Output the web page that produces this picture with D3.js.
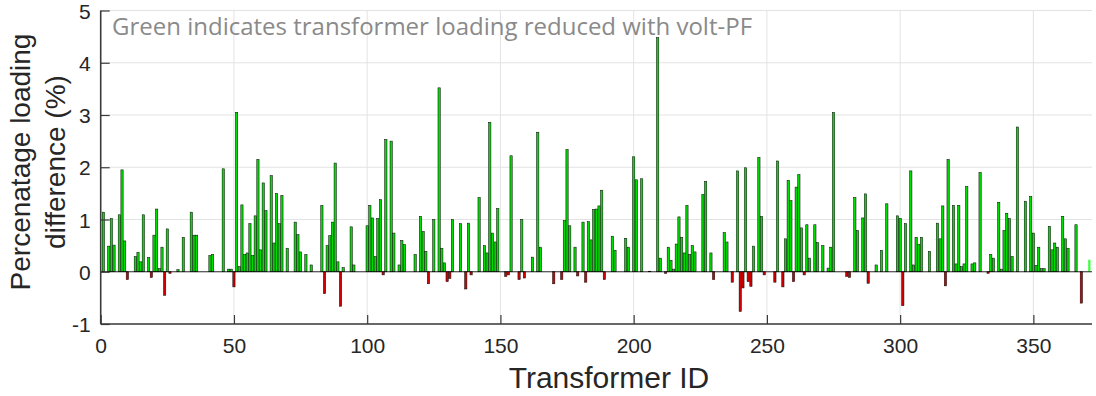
<!DOCTYPE html>
<html><head><meta charset="utf-8">
<script src="https://cdn.jsdelivr.net/npm/d3@7/dist/d3.min.js"></script>
<style>body{margin:0;background:#fff}svg{display:block}</style>
</head><body>
<svg id="c" width="1096" height="396"></svg>
<script>
// Percentage loading difference for transformer IDs 1..371
const loadingDiff = [
 1.14,0,0.49,1.02,0.51,0,1.09,1.95,0.59,-0.15,
 0,0,0.29,0.37,0.19,1.09,0,0.27,-0.11,0.7,
 1.2,0.06,0.47,-0.45,0.82,-0.03,0,0,0.04,0,
 0.66,0,0,1.14,0.7,0.7,0,0,0,0,
 0.31,0.33,0,0,0,1.97,0,0.05,0.05,-0.29,
 3.05,0.1,1.28,0.33,0.36,0.92,0.31,1.07,2.15,0.42,
 1.7,1.17,0,1.84,0.55,1.5,0.92,1.46,0,0.45,
 0,0,0.95,0.71,0.38,0,0.33,0,0.13,0,
 0,0,1.27,-0.42,0.5,0.69,0.95,2.08,0.19,-0.66,
 0.08,0,0,0.86,0.13,0,0,0,0,0.88,
 1.27,1.03,0.29,1.02,1.38,-0.06,2.53,0,2.5,0.74,
 0,0.13,0.6,0.52,0,0,0,0.33,0,1.06,
 0.77,0.39,-0.23,0,1.0,0,3.52,0.45,0.17,-0.19,
 -0.13,1.0,0,0,0.92,0,-0.33,0.93,-0.06,0,
 0,1.42,0,0.5,0.36,2.86,0.74,0.57,1.21,0,
 0,-0.09,-0.06,2.22,0,0,-0.15,1.0,-0.12,0,
 0,0.28,0,2.67,0.47,0,0,0,0,-0.23,
 0,0,-0.15,0.98,2.34,0.88,0,0.47,-0.08,0,
 0.95,-0.2,0.96,0.61,1.19,1.2,1.26,1.56,-0.15,0,
 0,0.68,0.41,0,0,0,0.64,0.47,0,2.2,
 1.76,0,1.78,0,0,0.01,0,0,4.48,0.26,
 0,-0.03,0.47,0.22,0.05,0.53,1.05,0.66,0.36,1.27,
 0.33,0.5,0.38,0,0,1.48,1.73,0,0.36,-0.15,
 0,0,0,0.75,0.57,0,-0.2,0,1.93,-0.76,
 -0.31,1.99,-0.19,-0.28,0.49,0,2.19,1.06,-0.06,0,
 0,0,-0.2,2.12,0,-0.29,0.63,1.75,1.36,-0.19,
 1.62,1.86,0.84,-0.06,0.9,0.26,0,0.9,0.56,0,
 0.5,0,0.07,0.47,3.05,0,0,0,0,-0.09,
 -0.11,0,1.42,0.79,0,1.03,1.49,-0.22,0,0,
 0.13,0,0.41,0,1.3,0,0,0,1.07,1.02,
 -0.65,0.92,0,1.93,0.13,0.66,0.52,0.66,0,0,
 0.39,0,0,0.93,0.63,1.26,-0.27,2.15,0,1.27,
 0.15,1.27,0.1,0.15,1.63,0,0.15,0.17,0,1.9,
 0,0,-0.03,0.33,0.26,0,1.33,0.05,0.79,1.12,
 1.02,0.29,0,2.77,0,0,1.35,0,1.44,0.74,
 0.12,0.47,0.06,0.06,0,0.87,0.42,0.55,0.47,0,
 1.06,0.63,0.45,0,0,0.9,0,-0.6,0,0,
 0.23
];
const transformerIds = loadingDiff.map((_, i) => i + 1);
const highlightedId = 371;
const xTicks = [0, 50, 100, 150, 200, 250, 300, 350];
const yTicks = [-1, 0, 1, 2, 3, 4, 5];
const xDomain = [0, 372];
const yDomain = [-1, 5];
const xTitle = "Transformer ID";
const yTitleLines = ["Percenatage loading", "difference (%)"];
const note = "Green indicates transformer loading reduced with volt-PF";

const svg = d3.select("#c");
const L = 100.7, R = 1092, T = 10.5, B = 324;
const x = d3.scaleLinear().domain(xDomain).range([L, R]);
const y = d3.scaleLinear().domain(yDomain).range([B, T]);

// grid
const grid = svg.append("g");
grid.selectAll(".gy").data(yTicks).join("line")
  .attr("x1", L).attr("x2", R).attr("y1", d => y(d)).attr("y2", d => y(d))
  .attr("stroke", "#e3e3e3").attr("stroke-width", 1);
grid.selectAll(".gx").data(xTicks.filter(d => d > 0)).join("line")
  .attr("y1", T).attr("y2", B).attr("x1", d => x(d)).attr("x2", d => x(d))
  .attr("stroke", "#e3e3e3").attr("stroke-width", 1);

// note text
svg.append("text").attr("x", 112).attr("y", 35)
  .attr("font-family", "'Open Sans', 'Noto Sans', sans-serif").attr("font-size", 24)
  .attr("fill", "#8a8a8a").text(note);

// bars
const step = x(1) - x(0);
const bw = step * 0.85;
const bars = transformerIds.map((id, i) => ({id, v: loadingDiff[i]})).filter(d => d.v !== 0);
svg.append("g").selectAll("rect").data(bars).join("rect")
  .attr("x", d => x(d.id) - bw / 2)
  .attr("width", bw)
  .attr("y", d => y(Math.max(0, d.v)))
  .attr("height", d => Math.abs(y(d.v) - y(0)))
  .attr("fill", d => d.id === highlightedId ? "#3cff3c" : (d.v > 0 ? "#00dd00" : "#d00000"))
  .attr("stroke", d => d.id === highlightedId ? "none" : "#111")
  .attr("stroke-width", 0.55);

// baseline
svg.append("line").attr("x1", L).attr("x2", R).attr("y1", y(0)).attr("y2", y(0))
  .attr("stroke", "#000").attr("stroke-width", 0.8);

// axes
const axisColor = "#3a3a3a";
const fmt = d => String(d);
const yAxis = svg.append("g").attr("transform", `translate(${L},0)`)
  .call(d3.axisLeft(y).tickValues(yTicks).tickSize(-9).tickPadding(10).tickFormat(fmt));
const xAxis = svg.append("g").attr("transform", `translate(0,${B})`)
  .call(d3.axisBottom(x).tickValues(xTicks).tickSize(-9).tickPadding(14).tickFormat(fmt));
[xAxis, yAxis].forEach(a => {
  a.select(".domain").attr("stroke", axisColor).attr("stroke-width", 1.6);
  a.selectAll(".tick line").attr("stroke", axisColor).attr("stroke-width", 1.2);
  a.selectAll(".tick text").attr("font-family", "'Liberation Sans', Arial, sans-serif")
    .attr("font-size", 21).attr("fill", "#262626");
});
xAxis.select(".domain").attr("d", `M${L},0H${R}`);
yAxis.select(".domain").attr("d", `M0,${B}V${T}`);
yAxis.selectAll(".tick text").attr("dy", "0.36em");

// titles
svg.append("text").attr("x", 609).attr("y", 388)
  .attr("text-anchor", "middle").attr("font-family", "'Liberation Sans', Arial, sans-serif")
  .attr("font-size", 30).attr("fill", "#262626").text(xTitle);
const yt = svg.append("text").attr("transform", "translate(30,162) rotate(-90)")
  .attr("text-anchor", "middle").attr("font-family", "'Liberation Sans', Arial, sans-serif")
  .attr("font-size", 28).attr("fill", "#262626");
yTitleLines.forEach((t, i) => yt.append("tspan").attr("x", 0).attr("dy", i === 0 ? 0 : 35).text(t));
</script>
</body></html>
